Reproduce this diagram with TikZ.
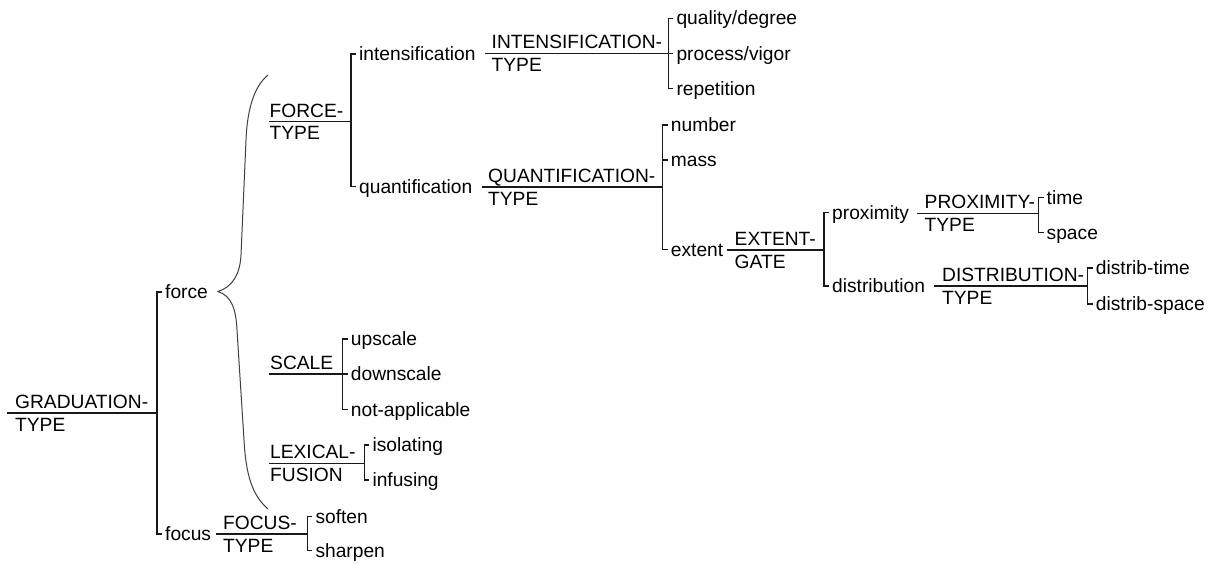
\documentclass[tikz,border=0pt]{standalone}
\usepackage{fontspec}
\setmainfont{Liberation Sans}
\begin{document}
\begin{tikzpicture}[x=1pt,y=-1pt,
  font=\fontsize{19.2}{22}\selectfont,
  link/.style={line width=1.3pt, draw=black!90},
  bracepath/.style={line width=1pt, draw=black!75},
  sysname/.style={anchor=base west, inner sep=0pt},
  feat/.style={anchor=base west, inner xsep=3pt, inner ysep=0pt, xshift=5pt, yshift=-6.5pt}]

\fill[white] (0,0) rectangle (1218,563);
\useasboundingbox (0,0) rectangle (1218,563);

% ---------- GRADUATION-TYPE ----------
\coordinate (gt-in)  at (7,413);
\coordinate (gt-bar) at (157,413);
\node[sysname] (gt)  at (15,408.3) {GRADUATION-};
\node[sysname] (gt2) at (15,431)   {TYPE};
\draw[link] (gt-in) -- (gt-bar);
\coordinate (c-force) at (157,292);
\coordinate (c-focus) at (157,534);
\node[feat] (force) at (c-force) {force};
\node[feat] (focus) at (c-focus) {focus};
\draw[link] (force.west |- c-force) -- (c-force) -- (c-focus) -- (focus.west |- c-focus);

% ---------- brace gathering the simultaneous force systems ----------
\coordinate (br-top) at (268,75);
\coordinate (br-tip) at (218,291.5);
\coordinate (br-bot) at (268,509);
\draw[bracepath] (br-top) .. controls (252,88) and (247,115) .. (246,140)
  -- (241,255) .. controls (240,275) and (232,287) .. (br-tip)
  .. controls (232,296) and (236,310) .. (237,330)
  -- (244,440) .. controls (246,475) and (252,495) .. (br-bot);

% ---------- FORCE-TYPE ----------
\coordinate (ft-in)  at (269,121.7);
\coordinate (ft-bar) at (351,121.7);
\node[sysname] (ft)  at (269.5,117)   {FORCE-};
\node[sysname] (ft2) at (269.5,139.7) {TYPE};
\draw[link] (ft-in) -- (ft-bar);
\coordinate (c-int)   at (351,54);
\coordinate (c-quant) at (351,186.7);
\node[feat] (intens) at (c-int)   {intensification};
\node[feat] (quant)  at (c-quant) {quantification};
\draw[link] (intens.west |- c-int) -- (c-int) -- (c-quant) -- (quant.west |- c-quant);

% ---------- INTENSIFICATION-TYPE ----------
\coordinate (it-in)  at (485,53.5);
\coordinate (it-bar) at (668.3,53.5);
\node[sysname] (it)  at (491.5,48.8) {INTENSIFICATION-};
\node[sysname] (it2) at (491.5,71.5) {TYPE};
\draw[link] (it-in) -- (it-bar);
\coordinate (c-qual) at (668.3,18.3);
\coordinate (c-proc) at (668.3,53.5);
\coordinate (c-rep)  at (668.3,88.5);
\node[feat] (qual) at (c-qual) {quality/degree};
\node[feat] (proc) at (c-proc) {process/vigor};
\node[feat] (rep)  at (c-rep)  {repetition};
\draw[link] (qual.west |- c-qual) -- (c-qual) -- (c-rep) -- (rep.west |- c-rep);
\draw[link] (c-proc) -- (proc.west |- c-proc);

% ---------- QUANTIFICATION-TYPE ----------
\coordinate (qt-in)  at (481.5,187);
\coordinate (qt-bar) at (662.7,187);
\node[sysname] (qt)  at (488,182.3) {QUANTIFICATION-};
\node[sysname] (qt2) at (488,205)   {TYPE};
\draw[link] (qt-in) -- (qt-bar);
\coordinate (c-num)  at (662.7,125);
\coordinate (c-mass) at (662.7,160);
\coordinate (c-ext)  at (662.7,249.5);
\node[feat] (num)  at (c-num)  {number};
\node[feat] (mass) at (c-mass) {mass};
\node[feat] (ext)  at (c-ext)  {extent};
\draw[link] (num.west |- c-num) -- (c-num) -- (c-ext) -- (ext.west |- c-ext);
\draw[link] (c-mass) -- (mass.west |- c-mass);

% ---------- EXTENT-GATE ----------
\coordinate (eg-in)  at (726.5,250);
\coordinate (eg-bar) at (824,250);
\node[sysname] (eg)  at (734.5,245.3) {EXTENT-};
\node[sysname] (eg2) at (734.5,268)   {GATE};
\draw[link] (eg-in) -- (eg-bar);
\coordinate (c-prox) at (824,212.5);
\coordinate (c-dist) at (824,286);
\node[feat] (prox) at (c-prox) {proximity};
\node[feat] (dist) at (c-dist) {distribution};
\draw[link] (prox.west |- c-prox) -- (c-prox) -- (c-dist) -- (dist.west |- c-dist);

% ---------- PROXIMITY-TYPE ----------
\coordinate (pt-in)  at (916.5,213.5);
\coordinate (pt-bar) at (1038.5,213.5);
\node[sysname] (pt)  at (924.5,208.8) {PROXIMITY-};
\node[sysname] (pt2) at (924.5,231.5) {TYPE};
\draw[link] (pt-in) -- (pt-bar);
\coordinate (c-time)  at (1038.5,197.5);
\coordinate (c-space) at (1038.5,232.5);
\node[feat] (time)  at (c-time)  {time};
\node[feat] (space) at (c-space) {space};
\draw[link] (time.west |- c-time) -- (c-time) -- (c-space) -- (space.west |- c-space);

% ---------- DISTRIBUTION-TYPE ----------
\coordinate (dt-in)  at (933.5,286);
\coordinate (dt-bar) at (1087.7,286);
\node[sysname] (dt)  at (942,281.3) {DISTRIBUTION-};
\node[sysname] (dt2) at (942,304)   {TYPE};
\draw[link] (dt-in) -- (dt-bar);
\coordinate (c-dtime)  at (1087.7,268);
\coordinate (c-dspace) at (1087.7,304);
\node[feat] (dtime)  at (c-dtime)  {distrib-time};
\node[feat] (dspace) at (c-dspace) {distrib-space};
\draw[link] (dtime.west |- c-dtime) -- (c-dtime) -- (c-dspace) -- (dspace.west |- c-dspace);

% ---------- SCALE ----------
\coordinate (sc-in)  at (269,374);
\coordinate (sc-bar) at (342.7,374);
\node[sysname] (sc) at (270,369.3) {SCALE};
\draw[link] (sc-in) -- (sc-bar);
\coordinate (c-up)   at (342.7,339);
\coordinate (c-down) at (342.7,374);
\coordinate (c-na)   at (342.7,409.5);
\node[feat] (up)   at (c-up)   {upscale};
\node[feat] (down) at (c-down) {downscale};
\node[feat] (na)   at (c-na)   {not-applicable};
\draw[link] (up.west |- c-up) -- (c-up) -- (c-na) -- (na.west |- c-na);
\draw[link] (c-down) -- (down.west |- c-down);

% ---------- LEXICAL-FUSION ----------
\coordinate (lf-in)  at (269,463.5);
\coordinate (lf-bar) at (364.3,463.5);
\node[sysname] (lf)  at (270,458.8) {LEXICAL-};
\node[sysname] (lf2) at (270,481.5) {FUSION};
\draw[link] (lf-in) -- (lf-bar);
\coordinate (c-iso) at (364.3,445);
\coordinate (c-inf) at (364.3,480);
\node[feat] (iso) at (c-iso) {isolating};
\node[feat] (inf) at (c-inf) {infusing};
\draw[link] (iso.west |- c-iso) -- (c-iso) -- (c-inf) -- (inf.west |- c-inf);

% ---------- FOCUS-TYPE ----------
\coordinate (fo-in)  at (215.5,534);
\coordinate (fo-bar) at (307.3,534);
\node[sysname] (fo)  at (223,529.3) {FOCUS-};
\node[sysname] (fo2) at (223,552)   {TYPE};
\draw[link] (fo-in) -- (fo-bar);
\coordinate (c-soft)  at (307.3,516.7);
\coordinate (c-sharp) at (307.3,550.5);
\node[feat] (soft)  at (c-soft)  {soften};
\node[feat] (sharp) at (c-sharp) {sharpen};
\draw[link] (soft.west |- c-soft) -- (c-soft) -- (c-sharp) -- (sharp.west |- c-sharp);

\end{tikzpicture}
\end{document}
